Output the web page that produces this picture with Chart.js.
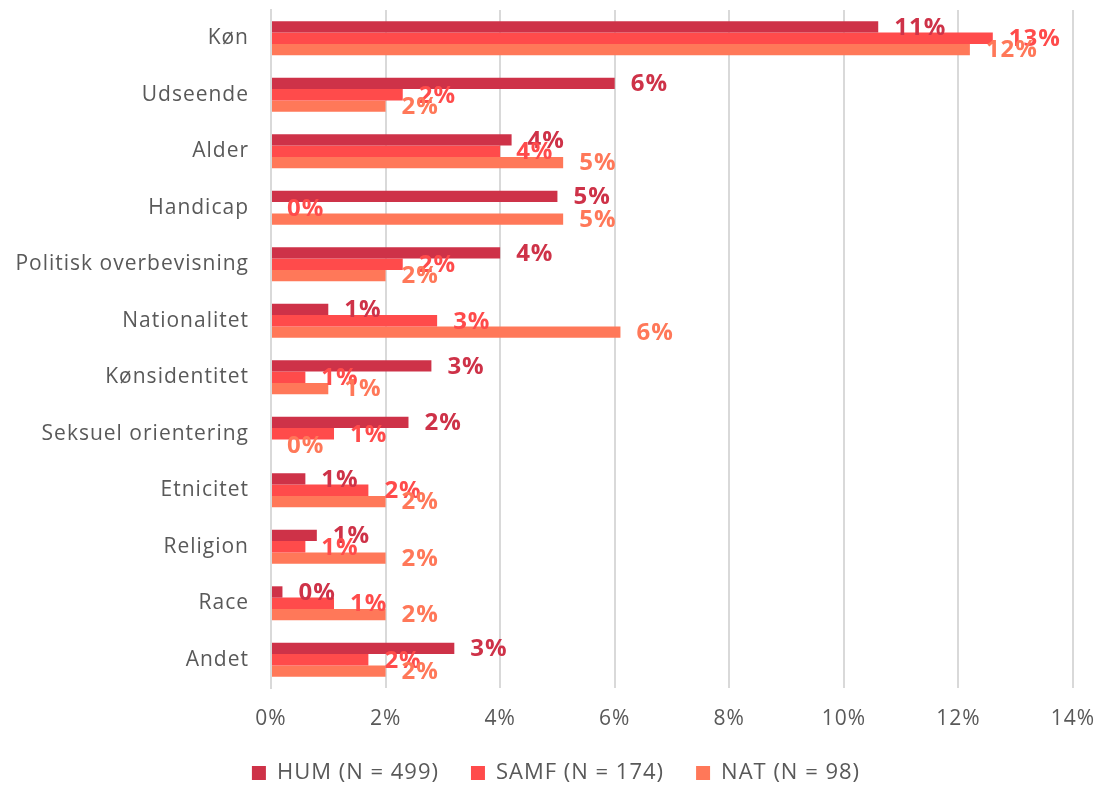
<!DOCTYPE html>
<html>
<head>
<meta charset="utf-8">
<script src="https://cdn.jsdelivr.net/npm/chart.js@4/dist/chart.umd.min.js"></script>
<style>
  html, body { margin: 0; padding: 0; background: #fff; }
  #wrap { width: 1105px; height: 787px; }
</style>
</head>
<body>
<div id="wrap"><canvas id="chart"></canvas></div>
<script>
// kategorier og værdier (procent)
const categories = ['Køn', 'Udseende', 'Alder', 'Handicap', 'Politisk overbevisning', 'Nationalitet',
    'Kønsidentitet', 'Seksuel orientering', 'Etnicitet', 'Religion', 'Race', 'Andet'];
const humValues = [10.6, 6.0, 4.2, 5.0, 4.0, 1.0, 2.8, 2.4, 0.6, 0.8, 0.2, 3.2];
const samfValues = [12.6, 2.3, 4.0, 0, 2.3, 2.9, 0.6, 1.1, 1.7, 0.6, 1.1, 1.7];
const natValues = [12.2, 2.0, 5.1, 5.1, 2.0, 6.1, 1.0, 0, 2.0, 2.0, 2.0, 2.0];
const seriesNames = ['HUM (N = 499)', 'SAMF (N = 174)', 'NAT (N = 98)'];
const seriesColors = ['#CE3248', '#FF4B4B', '#FF7859'];
const xTicks = [0, 2, 4, 6, 8, 10, 12, 14];

const fontFamily = '"Open Sans", Lato, sans-serif';

// lidt bredere skrift, som i originalen + lavere legende
const tweaks = {
    id: 'tweaks',
    beforeLayout(chart) {
        const lg = chart.legend;
        if (lg && !lg._patched) {
            const origFit = lg.fit.bind(lg);
            lg.fit = function () { origFit(); this.height = 57; };
            lg._patched = true;
        }
    },
    beforeDraw(chart) { chart.ctx.letterSpacing = '1px'; }
};

// tegner procent-etiketter efter hver søjle
const valueLabels = {
    id: 'valueLabels',
    afterDatasetsDraw(chart) {
        const ctx = chart.ctx;
        ctx.save();
        ctx.font = 'bold 24px ' + fontFamily;
        ctx.letterSpacing = '1px';
        ctx.textAlign = 'left';
        ctx.textBaseline = 'middle';
        chart.data.datasets.forEach((ds, i) => {
            const meta = chart.getDatasetMeta(i);
            ctx.fillStyle = ds.backgroundColor;
            meta.data.forEach((bar, j) => {
                ctx.fillText(Math.round(ds.data[j]) + '%', bar.x + 16, bar.y + 1);
            });
        });
        ctx.restore();
    }
};

const ctx = document.getElementById('chart').getContext('2d');
new Chart(ctx, {
    type: 'bar',
    data: {
        labels: categories,
        datasets: [humValues, samfValues, natValues].map((vals, i) => ({
            label: seriesNames[i],
            data: vals,
            backgroundColor: seriesColors[i],
            borderWidth: 0,
            barPercentage: 1,
            categoryPercentage: 0.6
        }))
    },
    options: {
        indexAxis: 'y',
        responsive: true,
        maintainAspectRatio: false,
        animation: false,
        layout: { padding: { left: 0, right: 32, top: 10, bottom: 0 } },
        scales: {
            x: {
                min: 0,
                max: 14,
                afterBuildTicks: axis => { axis.ticks = xTicks.map(v => ({ value: v })); },
                afterFit: axis => {
                    axis.height = 42;
                    axis.paddingRight = 0;
                    axis.paddingLeft = 0;
                },
                ticks: {
                    color: '#595959',
                    font: { family: fontFamily, size: 21 },
                    padding: 18,
                    callback: v => v + '%'
                },
                grid: { color: '#D9D9D9', lineWidth: 2, drawTicks: false },
                border: { display: false }
            },
            y: {
                afterFit: axis => {
                    axis.width = 271;
                    axis.paddingTop = 0;
                    axis.paddingBottom = 0;
                },
                ticks: {
                    color: '#595959',
                    font: { family: fontFamily, size: 21 },
                    padding: 22
                },
                grid: { display: false, drawTicks: false },
                border: { color: '#D9D9D9', width: 2 }
            }
        },
        plugins: {
            legend: {
                position: 'bottom',
                labels: {
                    color: '#595959',
                    font: { family: fontFamily, size: 22 },
                    boxWidth: 14,
                    boxHeight: 14,
                    padding: 32
                }
            },
            tooltip: { enabled: false }
        }
    },
    plugins: [tweaks, valueLabels]
});
</script>
</body>
</html>
